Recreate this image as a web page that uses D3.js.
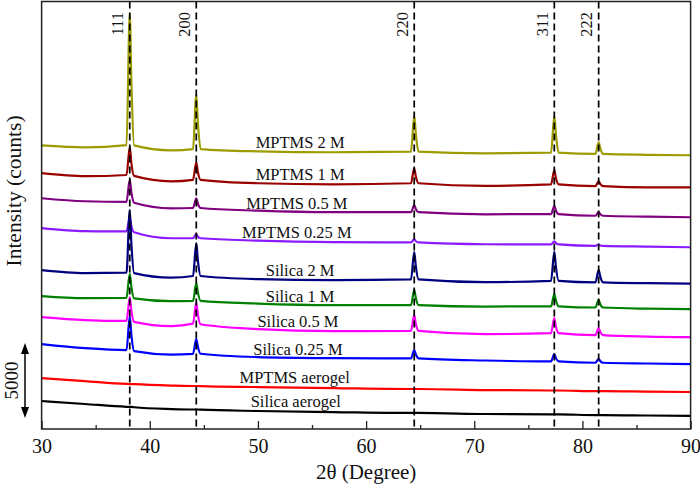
<!DOCTYPE html>
<html><head><meta charset="utf-8">
<script src="https://cdn.jsdelivr.net/npm/d3@7"></script>
<style>
body{margin:0;background:#fff}
text{font-family:"Liberation Serif","Times New Roman",serif;fill:#111}
</style>
</head><body><svg id="c" width="700" height="487"></svg>
<script>
// 2θ sample positions (degrees)
const twoTheta = [30, 34, 37.85, 38.15, 38.3, 38.55, 42, 44.0, 44.3, 44.45, 44.7, 50, 57, 64.15, 64.45, 64.6, 64.85, 71, 77.1, 77.4, 77.55, 77.8, 81.2, 81.5, 81.65, 81.9, 86, 90];

// plotted intensities (counts, stacked offsets included)
const mptms2M   = [18930, 18800, 18950, 27740, 23210, 18930, 18600, 18680, 22300, 20430, 18680, 18530, 18470, 18510, 20900, 19670, 18510, 18400, 18440, 20900, 19630, 18440, 18360, 19130, 18730, 18360, 18300, 18270];
const mptms1M   = [17070, 16870, 16950, 18820, 17750, 16890, 16530, 16630, 17800, 17130, 16630, 16400, 16330, 16400, 17400, 16830, 16400, 16230, 16330, 17270, 16730, 16330, 16210, 16530, 16350, 16210, 16130, 16130];
const mptms05M  = [15400, 15200, 15160, 16630, 15790, 15100, 14730, 14750, 15400, 15030, 14750, 14570, 14470, 14470, 14930, 14670, 14470, 14330, 14340, 14870, 14570, 14340, 14230, 14470, 14330, 14230, 14170, 14130];
const mptms025M = [13400, 13200, 13190, 14090, 13530, 13130, 12730, 12730, 13000, 12830, 12730, 12570, 12470, 12450, 12670, 12530, 12450, 12330, 12320, 12530, 12400, 12320, 12220, 12300, 12250, 12220, 12170, 12130];
const silica2M  = [10600, 10400, 10430, 14620, 12390, 10400, 10100, 10210, 12400, 11230, 10210, 10000, 9930, 9980, 11800, 10830, 9980, 9800, 9890, 11830, 10800, 9890, 9790, 10600, 10170, 9790, 9730, 9700];
const silica1M  = [8870, 8730, 8750, 10360, 9490, 8720, 8530, 8550, 9730, 9100, 8550, 8370, 8270, 8270, 9270, 8730, 8270, 8170, 8190, 9000, 8570, 8190, 8110, 8600, 8330, 8110, 8030, 8000];
const silica05M = [7470, 7270, 7210, 8790, 7890, 7150, 6870, 7030, 8420, 7620, 6990, 6670, 6530, 6550, 7600, 7000, 6550, 6330, 6400, 7400, 6830, 6400, 6270, 6730, 6470, 6270, 6170, 6130];
const silica025M= [5670, 5400, 5270, 7510, 6280, 5200, 4970, 5020, 6000, 5470, 5020, 4800, 4730, 4710, 5270, 4970, 4710, 4570, 4510, 5000, 4730, 4510, 4420, 4670, 4530, 4420, 4370, 4330];
const mptmsAerogel  = [3400, 3200, 3010, 3000, 3000, 2990, 2900, 2870, 2870, 2870, 2860, 2800, 2730, 2670, 2670, 2670, 2670, 2600, 2570, 2570, 2570, 2570, 2530, 2530, 2530, 2530, 2500, 2470];
const silicaAerogel = [1870, 1670, 1480, 1470, 1470, 1450, 1330, 1300, 1300, 1300, 1290, 1200, 1130, 1070, 1070, 1070, 1070, 1000, 970, 970, 970, 970, 930, 930, 930, 930, 900, 870];

const seriesNames  = ["MPTMS 2 M", "MPTMS 1 M", "MPTMS 0.5 M", "MPTMS 0.25 M", "Silica 2 M", "Silica 1 M", "Silica 0.5 M", "Silica 0.25 M", "MPTMS aerogel", "Silica aerogel"];
const seriesValues = [mptms2M, mptms1M, mptms05M, mptms025M, silica2M, silica1M, silica05M, silica025M, mptmsAerogel, silicaAerogel];
const seriesColors = ["#9c9c00", "#990000", "#800080", "#8c1aff", "#000080", "#008000", "#ff00ff", "#0000ff", "#ff0000", "#000000"];
// label anchor positions (degrees, counts)
const labelX = [53.9, 53.9, 53.6, 53.6, 53.9, 53.9, 53.7, 53.7, 53.4, 53.5];
const labelY = [18730, 16600, 14670, 12730, 10200, 8470, 6800, 4930, 3070, 1470];

const peakPositions = [38.15, 44.3, 64.45, 77.4, 81.5];
const peakLabels = ["111", "200", "220", "311", "222"];
const xTicks = [30, 40, 50, 60, 70, 80, 90];
const xMinorTicks = [35, 45, 55, 65, 75, 85];
const scaleBar = [733, 5733]; // 5000 counts

const svg = d3.select("#c");
const L = 41.6, R = 690.6, T = 1.5, B = 429;
const x = d3.scaleLinear().domain([30, 90]).range([L, R]);
const y = d3.scaleLinear().domain([0, 28530]).range([B, T]);

const line = d3.line().x((d, i) => x(twoTheta[i])).y(d => y(d)).curve(d3.curveMonotoneX);

seriesValues.forEach((vals, k) => {
  svg.append("path").attr("d", line(vals)).attr("fill", "none")
    .attr("stroke", seriesColors[k]).attr("stroke-width", 2.2).attr("stroke-linejoin", "round");
});

// series labels
svg.append("g").selectAll("text").data(seriesNames).join("text")
  .attr("x", (d, i) => x(labelX[i])).attr("y", (d, i) => y(labelY[i]))
  .attr("text-anchor", "middle").attr("font-size", 16.5).text(d => d);

// dashed reference lines
svg.append("g").selectAll("line").data(peakPositions).join("line")
  .attr("x1", d => x(d)).attr("x2", d => x(d)).attr("y1", T).attr("y2", B)
  .attr("stroke", "#000").attr("stroke-width", 1.7).attr("stroke-dasharray", "7,4");

svg.append("g").selectAll("text").data(peakLabels).join("text")
  .attr("transform", (d, i) => `translate(${x(peakPositions[i]) - 6.5},12) rotate(-90)`)
  .attr("text-anchor", "end").attr("font-size", 16.5).text(d => d);

// axes
const gx = svg.append("g").attr("transform", `translate(0,${B})`)
  .call(d3.axisBottom(x).tickValues(xTicks).tickSizeInner(-8).tickSizeOuter(0).tickPadding(9.8).tickFormat(d3.format("d")));
gx.select(".domain").remove();
gx.selectAll(".tick line").attr("stroke", "#222").attr("stroke-width", 1.3);
gx.selectAll(".tick text").attr("font-size", 20).attr("font-family", "Liberation Serif").attr("fill", "#111");
const gm = svg.append("g").attr("transform", `translate(0,${B})`)
  .call(d3.axisBottom(x).tickValues(xMinorTicks).tickSizeInner(-4).tickSizeOuter(0).tickFormat(""));
gm.select(".domain").remove();
gm.selectAll(".tick line").attr("stroke", "#222").attr("stroke-width", 1.3);

svg.append("rect").attr("x", L).attr("y", T).attr("width", R - L).attr("height", B - T)
  .attr("fill", "none").attr("stroke", "#222").attr("stroke-width", 1.5);

svg.append("text").attr("x", (L + R) / 2).attr("y", 479).attr("text-anchor", "middle")
  .attr("font-size", 21).text("2θ (Degree)");
svg.append("text").attr("transform", "translate(21,191) rotate(-90)").attr("text-anchor", "middle")
  .attr("font-size", 21.5).text("Intensity (counts)");

// scale bar
const sx = 25, y1 = y(scaleBar[1]), y0 = y(scaleBar[0]);
svg.append("line").attr("x1", sx).attr("x2", sx).attr("y1", y1 + 6).attr("y2", y0 - 6)
  .attr("stroke", "#000").attr("stroke-width", 1.5);
svg.append("path").attr("d", `M${sx},${y1} L${sx - 4},${y1 + 11} L${sx + 4},${y1 + 11} Z`).attr("fill", "#000");
svg.append("path").attr("d", `M${sx},${y0} L${sx - 4},${y0 - 11} L${sx + 4},${y0 - 11} Z`).attr("fill", "#000");
svg.append("text").attr("transform", `translate(17.5,${(y0 + y1) / 2}) rotate(-90)`).attr("text-anchor", "middle")
  .attr("font-size", 19).text("5000");
</script></body></html>
